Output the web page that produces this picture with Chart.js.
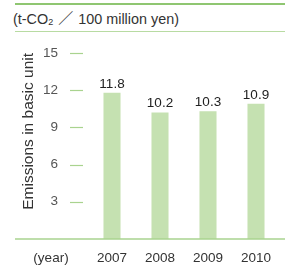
<!DOCTYPE html>
<html lang="en">
<head>
    <meta charset="UTF-8">
    <title>Emissions in basic unit</title>
    <script src="https://cdn.jsdelivr.net/npm/chart.js"></script>
    <style>
        body { margin: 0; background: #fff; font-family: "Liberation Sans", Arial, sans-serif; }
        #wrap { position: relative; width: 285px; height: 269px; overflow: hidden; }
        #topLine { position: absolute; left: 15px; right: 0; top: 3px; height: 2px; background: #8fc671; }
        #unit { position: absolute; left: 13px; top: 10px; font-size: 14.4px; color: #333; white-space: nowrap; }
        #unit sub { font-size: 9px; vertical-align: -1px; }
        #unit .sl { display: inline-block; width: 25px; text-align: center; font-family: "Noto Sans CJK JP", sans-serif; font-size: 15px; line-height: 1; }
        #subLine { position: absolute; left: 15px; right: 0; top: 31px; height: 1px; background: #b8dba2; }
        #speedChart { position: absolute; left: 0; top: 0; }
    </style>
</head>
<body>
    <div id="wrap">
        <div id="topLine"></div>
        <div id="unit">(t-CO<sub>2</sub><span class="sl">／</span>100 million yen)</div>
        <div id="subLine"></div>
        <canvas id="speedChart" width="285" height="269"></canvas>
    </div>
    <script>
        const years = ['2007', '2008', '2009', '2010'];
        const emissions = [11.8, 10.2, 10.3, 10.9];
        const yTicks = [3, 6, 9, 12, 15];
        const yearLabel = '(year)';
        const yTitle = 'Emissions in basic unit';

        const barColor = '#c5e1b1';
        const lineColor = '#a9d38f';
        const textColor = '#333';
        const fontFamily = '"Liberation Sans", Arial, sans-serif';

        // draws tick marks, baseline, "(year)" and values over the bars
        const decorations = {
            id: 'decorations',
            afterDatasetsDraw(chart) {
                const ctx = chart.ctx;
                const y = chart.scales.y;
                const x = chart.scales.x;
                ctx.save();
                ctx.strokeStyle = lineColor;
                ctx.lineWidth = 1.2;
                yTicks.forEach(v => {
                    const py = Math.round(y.getPixelForValue(v)) + 0.5;
                    ctx.beginPath();
                    ctx.moveTo(70, py);
                    ctx.lineTo(83, py);
                    ctx.stroke();
                });
                const base = y.getPixelForValue(0);
                ctx.lineWidth = 1.5;
                ctx.beginPath();
                ctx.moveTo(15, base);
                ctx.lineTo(285, base);
                ctx.stroke();

                ctx.fillStyle = textColor;
                ctx.font = '13.5px ' + fontFamily;
                ctx.textAlign = 'center';
                ctx.textBaseline = 'middle';
                ctx.fillText(yearLabel, 51, 258);

                ctx.textBaseline = 'bottom';
                ctx.fillStyle = '#222';
                emissions.forEach((v, i) => {
                    ctx.fillText(v.toFixed(1), x.getPixelForValue(i), y.getPixelForValue(v) - 2);
                });
                ctx.restore();
            }
        };

        const ctx = document.getElementById('speedChart').getContext('2d');
        window.speedChart = new Chart(ctx, {
            type: 'bar',
            data: {
                labels: years,
                datasets: [{
                    data: emissions,
                    backgroundColor: barColor,
                    borderWidth: 0,
                    categoryPercentage: 1,
                    barPercentage: 0.355
                }]
            },
            options: {
                responsive: false,
                animation: false,
                events: [],
                layout: { padding: { top: 53, right: 5, bottom: 0, left: 0 } },
                plugins: { legend: { display: false }, tooltip: { enabled: false } },
                scales: {
                    x: {
                        grid: { display: false },
                        border: { display: false },
                        ticks: { color: textColor, font: { size: 13.5, family: fontFamily }, padding: 3 },
                        afterFit: s => { s.height = 28; }
                    },
                    y: {
                        min: 0,
                        max: 15,
                        afterBuildTicks: s => { s.ticks = yTicks.map(v => ({ value: v })); },
                        grid: { display: false },
                        border: { display: false },
                        ticks: { color: '#555', font: { size: 13.5, family: fontFamily }, padding: 22 },
                        title: {
                            display: true,
                            text: yTitle,
                            align: 'end',
                            color: textColor,
                            font: { size: 15.5, family: fontFamily },
                            padding: { top: 19, bottom: 0 }
                        },
                        afterFit: s => { s.width = 88; }
                    }
                }
            },
            plugins: [decorations]
        });
    </script>
</body>
</html>
